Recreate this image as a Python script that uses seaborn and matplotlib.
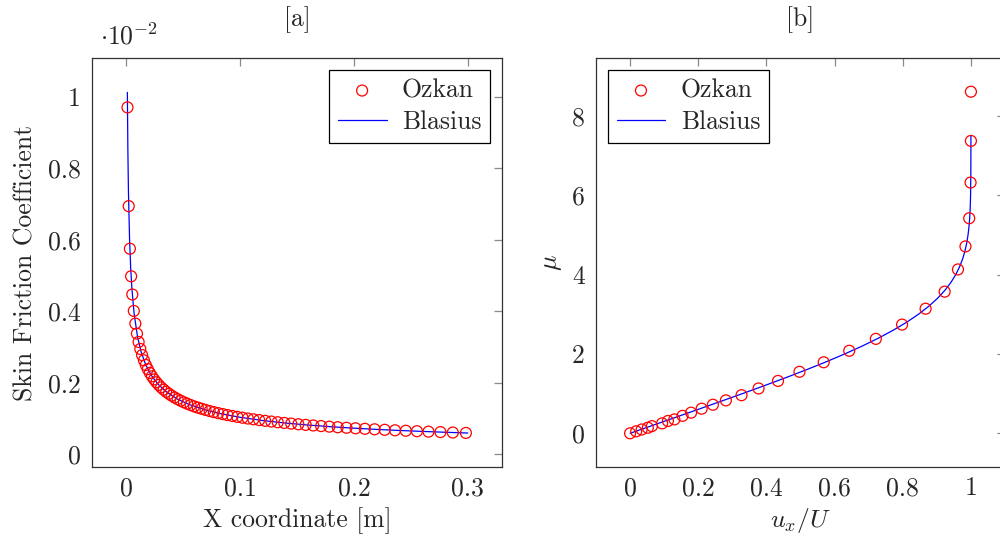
import matplotlib
matplotlib.use("Agg")
import matplotlib.pyplot as plt
import seaborn as sns
import pandas as pd

# ---------------- data ----------------
# Panel [a]: skin friction coefficient (values in units of 1e-2)
ozkan_x = [0.00115, 0.00224, 0.00327, 0.00436, 0.00540, 0.00671, 0.00807, 0.00947,
           0.01092, 0.01242, 0.01398, 0.01559, 0.01726, 0.01898, 0.02077, 0.02262,
           0.02454, 0.02652, 0.02858, 0.03070, 0.03291, 0.03518, 0.03754, 0.03999,
           0.04252, 0.04513, 0.04785, 0.05065, 0.05356, 0.05657, 0.05968, 0.06291,
           0.06624, 0.06970, 0.07328, 0.07698, 0.08082, 0.08479, 0.08890, 0.09315,
           0.09756, 0.10212, 0.10684, 0.11173, 0.11679, 0.12204, 0.12746, 0.13308,
           0.13889, 0.14491, 0.15115, 0.15760, 0.16428, 0.17120, 0.17836, 0.18577,
           0.19345, 0.20139, 0.20962, 0.21814, 0.22696, 0.23609, 0.24554, 0.25532,
           0.26545, 0.27594, 0.28680, 0.29830]
ozkan_cf = [0.970, 0.694, 0.575, 0.498, 0.4472, 0.4012, 0.3658, 0.3377,
            0.3145, 0.2949, 0.2779, 0.2632, 0.2501, 0.2385, 0.2280, 0.2185,
            0.2098, 0.2018, 0.1944, 0.1876, 0.1812, 0.1752, 0.1696, 0.1643,
            0.1594, 0.1547, 0.1502, 0.1460, 0.1420, 0.1382, 0.1345, 0.1310,
            0.1277, 0.1245, 0.1214, 0.1184, 0.1156, 0.1129, 0.1102, 0.1077,
            0.1052, 0.1028, 0.1005, 0.0983, 0.0962, 0.0941, 0.0920, 0.0901,
            0.0882, 0.0863, 0.0845, 0.0828, 0.0811, 0.0794, 0.0778, 0.0762,
            0.0747, 0.0732, 0.0718, 0.0704, 0.0690, 0.0676, 0.0663, 0.0650,
            0.0638, 0.0626, 0.0614, 0.0602]
blasius_x = [0.00105, 0.0015, 0.002, 0.003, 0.004, 0.005, 0.007, 0.010, 0.013,
             0.017, 0.022, 0.028, 0.035, 0.045, 0.055, 0.070, 0.085, 0.100,
             0.120, 0.140, 0.160, 0.180, 0.200, 0.220, 0.240, 0.260, 0.280, 0.300]
blasius_cf = [1.012, 0.8485, 0.7348, 0.6000, 0.5196, 0.4648, 0.3928, 0.3286, 0.2882,
              0.2520, 0.2216, 0.1964, 0.1757, 0.1549, 0.1401, 0.1242, 0.1127, 0.1039,
              0.0949, 0.0878, 0.0822, 0.0775, 0.0735, 0.0701, 0.0671, 0.0645, 0.0621, 0.0600]

# Panel [b]: velocity profile
ozkan_u = [0.0, 0.018, 0.034, 0.052, 0.064, 0.094, 0.111, 0.130, 0.154, 0.179,
           0.210, 0.243, 0.281, 0.327, 0.377, 0.434, 0.497, 0.568, 0.643, 0.721,
           0.798, 0.867, 0.923, 0.962, 0.984, 0.995, 0.999, 1.000, 1.000]
ozkan_eta = [0.0, 0.05, 0.095, 0.14, 0.18, 0.25, 0.31, 0.35, 0.44, 0.52,
             0.62, 0.72, 0.83, 0.96, 1.13, 1.32, 1.55, 1.79, 2.08, 2.38,
             2.74, 3.14, 3.57, 4.13, 4.71, 5.42, 6.32, 7.37, 8.61]
blasius_u = [0.0, 0.06641, 0.13277, 0.19894, 0.26471, 0.32979, 0.39378, 0.45627,
             0.51676, 0.57477, 0.62977, 0.68132, 0.72899, 0.77246, 0.81152, 0.84605,
             0.87609, 0.90177, 0.92333, 0.94112, 0.95552, 0.96696, 0.97587, 0.98269,
             0.98779, 0.99155, 0.99425, 0.99616, 0.99748, 0.99838, 0.99898, 0.99969,
             0.99992, 0.99998]
blasius_eta = [0.0, 0.2, 0.4, 0.6, 0.8, 1.0, 1.2, 1.4, 1.6, 1.8, 2.0, 2.2, 2.4, 2.6,
               2.8, 3.0, 3.2, 3.4, 3.6, 3.8, 4.0, 4.2, 4.4, 4.6, 4.8, 5.0, 5.2, 5.4,
               5.6, 5.8, 6.0, 6.5, 7.0, 7.5]

xticks_a = [0, 0.1, 0.2, 0.3]
xticklabels_a = ["0", "0.1", "0.2", "0.3"]
yticks_a = [0, 0.2, 0.4, 0.6, 0.8, 1.0]
yticklabels_a = ["0", "0.2", "0.4", "0.6", "0.8", "1"]
xticks_b = [0, 0.2, 0.4, 0.6, 0.8, 1.0]
xticklabels_b = ["0", "0.2", "0.4", "0.6", "0.8", "1"]
yticks_b = [0, 2, 4, 6, 8]
yticklabels_b = ["0", "2", "4", "6", "8"]

# ---------------- style ----------------
sns.set_style("white")
plt.rcParams["font.family"] = ["cmr10", "DejaVu Serif"]
plt.rcParams["mathtext.fontset"] = "cm"
plt.rcParams["axes.formatter.use_mathtext"] = True
plt.rcParams["axes.unicode_minus"] = False

FS = 18.5
RED = "#ff0000"
BLUE = "#0000ff"

fig = plt.figure(figsize=(10, 5.45), dpi=100)
ax1 = fig.add_axes([0.092, 0.1431, 0.410, 0.7505])
ax2 = fig.add_axes([0.596, 0.1431, 0.409, 0.7505])

df_a_pts = pd.DataFrame({"x": ozkan_x, "cf": ozkan_cf})
df_a_line = pd.DataFrame({"x": blasius_x, "cf": blasius_cf})
df_b_pts = pd.DataFrame({"u": ozkan_u, "eta": ozkan_eta})
df_b_line = pd.DataFrame({"u": blasius_u, "eta": blasius_eta})

for ax, pts, line, xc, yc in [(ax1, df_a_pts, df_a_line, "x", "cf"),
                               (ax2, df_b_pts, df_b_line, "u", "eta")]:
    sns.scatterplot(data=pts, x=xc, y=yc, ax=ax, marker="o", s=62,
                    facecolor="none", edgecolor=RED, linewidth=0.9,
                    label="Ozkan", zorder=3)
    sns.lineplot(data=line, x=xc, y=yc, ax=ax, color=BLUE, linewidth=0.9,
                 sort=False, estimator=None, label="Blasius", zorder=2)

ax1.set_xlim(-0.03, 0.33)
ax1.set_ylim(-0.035, 1.108)
ax2.set_xlim(-0.1, 1.1)
ax2.set_ylim(-0.85, 9.46)

ax1.set_xticks(xticks_a, xticklabels_a)
ax1.set_yticks(yticks_a, yticklabels_a)
ax2.set_xticks(xticks_b, xticklabels_b)
ax2.set_yticks(yticks_b, yticklabels_b)

for ax in (ax1, ax2):
    ax.tick_params(direction="in", length=6, width=0.9, color="#8a8a8a",
                   top=True, right=True, labelsize=FS, pad=7)
    ax.tick_params(axis="y", pad=8)
    for sp in ax.spines.values():
        sp.set_color("#333333")
        sp.set_linewidth(0.9)
    ax.grid(False)

ax1.set_xlabel("X coordinate [m]", fontsize=FS)
ax1.xaxis.set_label_coords(0.5, -0.13)
ax1.xaxis.label.set_va("center")
ax1.set_ylabel("Skin Friction Coefficient", fontsize=FS)
ax1.yaxis.set_label_coords(-0.163, 0.5)
ax1.yaxis.label.set_va("center")

ax2.set_xlabel(r"$u_x/U$", fontsize=FS)
ax2.xaxis.set_label_coords(0.5, -0.13)
ax2.xaxis.label.set_va("center")
ax2.set_ylabel(r"$\mu$", fontsize=FS)
ax2.yaxis.set_label_coords(-0.108, 0.5)
ax2.yaxis.label.set_va("center")

fig.text(0.297, 1 - 20 / 545, "[a]", ha="center", va="center", fontsize=FS)
fig.text(0.800, 1 - 20 / 545, "[b]", ha="center", va="center", fontsize=FS)
fig.text(0.100, 1 - 36 / 545, r"$\cdot 10^{-2}$", ha="left", va="center", fontsize=FS)

leg_kw = dict(fontsize=FS, frameon=True, fancybox=False, framealpha=1,
              edgecolor="black", borderpad=0.35, labelspacing=0.3,
              handlelength=1.9, handletextpad=0.6, borderaxespad=0.45)
l1 = ax1.legend(loc="upper right", **leg_kw)
l2 = ax2.legend(loc="upper left", **leg_kw)
for lg in (l1, l2):
    lg.get_frame().set_linewidth(0.9)

fig.savefig("out.png", dpi=100)
